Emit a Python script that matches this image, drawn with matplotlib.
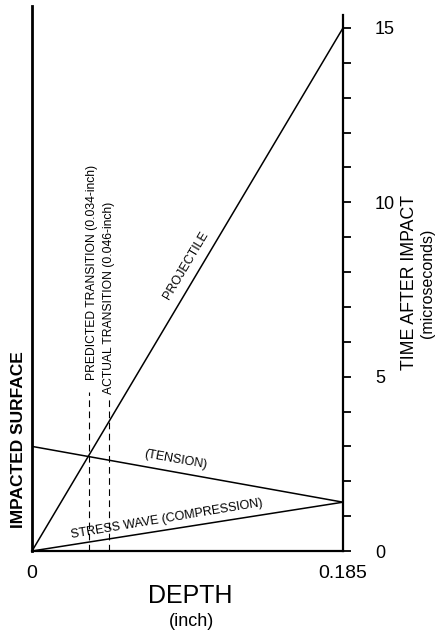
import numpy as np
import matplotlib
matplotlib.use("Agg")
import matplotlib.pyplot as plt
from matplotlib.ticker import MultipleLocator

plt.rcParams['font.family'] = ['Liberation Sans', 'DejaVu Sans']

# depth (inch) vs time after impact (microseconds)
max_depth = 0.185
projectile_depth = [0.0, 0.185]
projectile_time = [0.0, 15.0]
stress_depth = [0.0, 0.185]
stress_time = [0.0, 1.4]
tension_depth = [0.185, 0.0]
tension_time = [1.4, 3.0]
transition_depth = [0.034, 0.046]
transition_text = ['PREDICTED TRANSITION (0.034-inch)',
                   'ACTUAL TRANSITION (0.046-inch)']
time_ticks = [0, 5, 10, 15]
depth_ticks = [0, 0.185]
depth_ticklabels = ['0', '0.185']

fig = plt.figure(figsize=(4.41, 6.32), dpi=100)
ax = fig.add_axes([32 / 441, 81 / 632, 311 / 441, 545 / 632])
ax.set_xlim(0, max_depth)
ax.set_ylim(0, 15.63)

lw = 1.1
ax.plot(projectile_depth, projectile_time, color='black', lw=lw)
ax.plot(stress_depth, stress_time, color='black', lw=lw)
ax.plot(tension_depth, tension_time, color='black', lw=lw)

# dashed markers for the transition depths
dash_tops = [4.55, 4.45]
label_x = [0.0355, 0.0458]
label_bottom = [4.9, 4.5]
for d, top, lx, lb, txt in zip(transition_depth, dash_tops, label_x, label_bottom, transition_text):
    ax.plot([d, d], [0, top], color='black', lw=0.8, ls=(0, (6, 4)))
    ax.text(lx, lb, txt, rotation=90, ha='center', va='bottom', fontsize=8.7)


def screen_angle(xs, ys):
    p = ax.transData.transform(np.column_stack([xs, ys]))
    return np.degrees(np.arctan2(p[1, 1] - p[0, 1], p[1, 0] - p[0, 0]))


ax.text(0.0916, 8.2, 'PROJECTILE', rotation=screen_angle(projectile_depth, projectile_time),
        rotation_mode='anchor', ha='center', va='center', fontsize=9)
ax.text(0.0857, 2.61, '(TENSION)', rotation=screen_angle(tension_depth[::-1], tension_time[::-1]),
        rotation_mode='anchor', ha='center', va='center', fontsize=9)
ax.text(0.0803, 0.92, 'STRESS WAVE (COMPRESSION)', rotation=screen_angle(stress_depth, stress_time) + 0.6,
        rotation_mode='anchor', ha='center', va='center', fontsize=9)

# axes frame: left surface line, right time axis, bottom depth axis
ax.spines['top'].set_visible(False)
ax.spines['left'].set_linewidth(2.0)
ax.spines['right'].set_linewidth(1.6)
ax.spines['bottom'].set_linewidth(1.6)
ax.spines['right'].set_bounds(0, 15.37)

ax.yaxis.tick_right()
ax.set_yticks(time_ticks)
ax.yaxis.set_minor_locator(MultipleLocator(1))
ax.tick_params(axis='y', which='both', direction='out', length=6, width=1.3,
               labelsize=13, pad=17, left=False)
ax.set_xticks(depth_ticks)
ax.set_xticklabels(depth_ticklabels)
ax.tick_params(axis='x', length=0, labelsize=14, pad=10)

fig.text(190 / 441, 1 - 596 / 632, 'DEPTH', ha='center', va='center', fontsize=18)
fig.text(191 / 441, 1 - 622 / 632, '(inch)', ha='center', va='center', fontsize=13)
fig.text(19 / 441, 1 - 440 / 632, 'IMPACTED SURFACE', rotation=90, ha='center', va='center',
         fontsize=12.5, fontweight='bold')
fig.text(409 / 441, 1 - 283 / 632, 'TIME AFTER IMPACT', rotation=90, ha='center', va='center',
         fontsize=12.8)
fig.text(428 / 441, 1 - 283 / 632, '(microseconds)', rotation=90, ha='center', va='center',
         fontsize=11.5)

fig.savefig('out.png', dpi=100)
